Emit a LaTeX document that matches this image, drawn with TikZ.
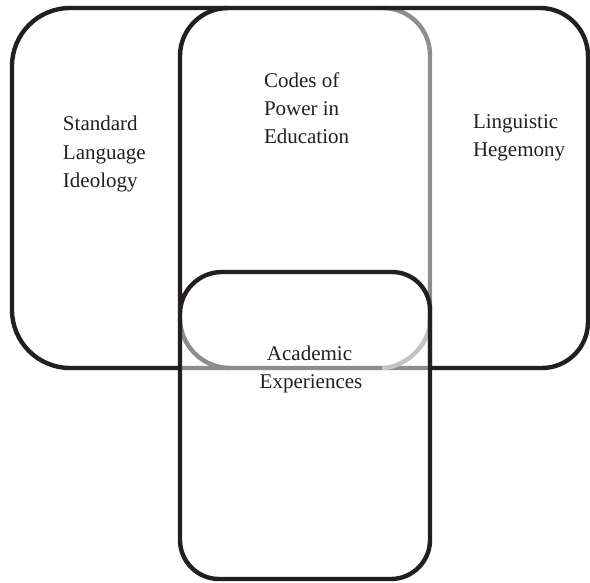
\documentclass[tikz,border=0pt]{standalone}
\usepackage{fontspec}
\setmainfont{Liberation Serif}
\definecolor{inkblack}{HTML}{231F20}
\definecolor{midgray}{HTML}{8C8D90}
\definecolor{lightgray}{HTML}{C2C3C5}
\begin{document}
\begin{tikzpicture}[x=1pt,y=-1pt,
  outline/.style={line width=4.4pt,draw=inkblack,line join=round},
  grayline/.style={line width=4.4pt,draw=midgray},
  palegrayline/.style={line width=4.4pt,draw=lightgray},
  label/.style={inner sep=0pt,outer sep=0pt,text=inkblack,
    font=\fontsize{21}{28.5}\selectfont}]
\useasboundingbox[fill=white] (0,0) rectangle (590,582);

% grey outline of the central box
\draw[grayline] (383,8) .. controls (409,8) and (430,29) .. (430,55)
  -- (430,368) -- (180,368);
\draw[grayline] (180,318) .. controls (180,345.6) and (202.4,368) .. (230,368);
\draw[palegrayline] (430,320) .. controls (430,346.5) and (403.5,368) .. (382,368);

% outer frame: left and right boxes sharing the top edge
\draw[outline] (180,368) -- (70,368)
  .. controls (38,368) and (12,342) .. (12,310)
  -- (12,66)
  .. controls (12,34) and (38,8) .. (70,8)
  -- (540,8)
  .. controls (566.5,8) and (588,29.5) .. (588,56)
  -- (588,322)
  .. controls (588,347.4) and (567.4,368) .. (542,368)
  -- (430,368);

% left edge of the central box running into the lower box
\draw[outline] (228,8) .. controls (201.5,8) and (180,29.5) .. (180,56)
  -- (180,540)
  .. controls (180,561.5) and (197.5,579) .. (219,579)
  -- (391,579)
  .. controls (412.5,579) and (430,561.5) .. (430,540)
  -- (430,310)
  .. controls (430,289) and (413,272) .. (392,272)
  -- (222,272)
  .. controls (198.8,272) and (180,290.8) .. (180,314);

% labels
\node[label,anchor=base west] (std1) at (63,130.5) {Standard};
\node[label,anchor=base west] (std2) at (63,159) {Language};
\node[label,anchor=base west] (std3) at (63,187.5) {Ideology};

\node[label,anchor=base west] (cod1) at (264,87) {Codes of};
\node[label,anchor=base west] (cod2) at (264,115) {Power in};
\node[label,anchor=base west] (cod3) at (264,143) {Education};

\node[label,anchor=base west] (lin1) at (473,128) {Linguistic};
\node[label,anchor=base west] (lin2) at (473,156) {Hegemony};

\node[label,anchor=base] (aca1) at (309.5,360) {Academic};
\node[label,anchor=base] (aca2) at (311,388) {Experiences};
\end{tikzpicture}
\end{document}
